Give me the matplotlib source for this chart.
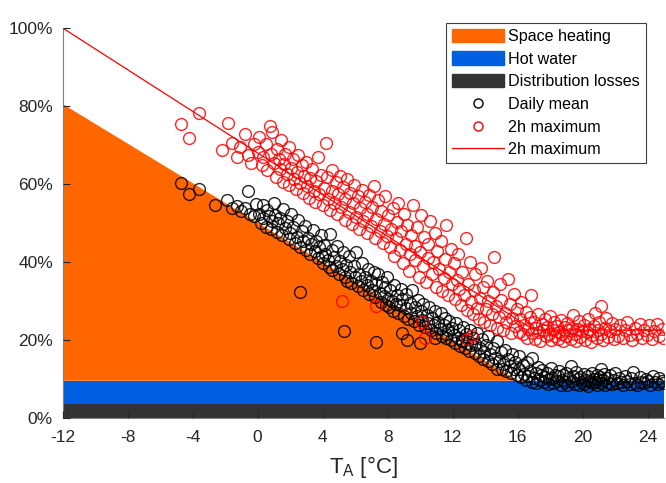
import numpy as np
import matplotlib.pyplot as plt
from matplotlib.patches import Patch
from matplotlib.lines import Line2D

plt.rcParams['font.family'] = ['Liberation Sans', 'DejaVu Sans']
plt.rcParams['mathtext.fontset'] = 'custom'
plt.rcParams['mathtext.rm'] = 'Liberation Sans'
plt.rcParams['axes.unicode_minus'] = False

# Lastanteile über der Außentemperatur (in %)
t_area = [-12, 16, 25]
verluste = [3.5, 3.5, 3.5]
warmwasser = [6.0, 6.0, 6.0]
heizung = [71.0, 0.0, 0.0]

t_linie = [-12, 17, 25]
max_linie = [100, 22.5, 22.5]

# Tagesmittel: (T, Anteil)
mittel = np.array([
    (-4.7, 60.2), (-4.2, 57.5), (-3.6, 58.8), (-2.6, 54.5), (-1.9, 55.8), (-1.6, 53.8), (-1.3, 54.4),
    (-1.05, 53.0), (-0.75, 53.9), (-0.5, 52.4), (-0.6, 58.3), (-0.25, 51.8), (-0.1, 54.9),
    (0.1, 52.4), (0.2, 50.1), (0.3, 54.6), (0.35, 51.3), (0.5, 49.0), (0.6, 53.2), (0.7, 51.7), (0.8, 48.4),
    (0.9, 50.6), (1.0, 55.0), (1.05, 52.0), (1.2, 47.7), (1.25, 49.9), (1.4, 51.3), (1.5, 46.9), (1.55, 53.5),
    (1.7, 48.6), (1.8, 50.4), (1.9, 45.8), (2.0, 47.3), (2.05, 52.2), (2.2, 49.0), (2.3, 44.9), (2.4, 46.5),
    (2.5, 50.8), (2.6, 43.8), (2.7, 47.9), (2.8, 45.4), (2.9, 49.2), (3.0, 43.0), (3.1, 46.0), (3.2, 41.9),
    (3.3, 44.6), (3.4, 48.3), (3.5, 42.8), (3.6, 45.3), (3.7, 40.9), (3.8, 43.9), (3.9, 47.0), (3.95, 41.6),
    (4.0, 39.6), (4.1, 44.3), (4.15, 42.0), (4.3, 40.5), (4.4, 38.6), (4.45, 47.2), (4.55, 43.1), (4.6, 37.9),
    (4.7, 41.2), (4.8, 39.0), (4.9, 44.0), (5.0, 36.8), (5.05, 40.2), (5.2, 38.1), (5.25, 42.6), (5.35, 36.0),
    (5.45, 39.3), (5.5, 35.2), (5.6, 41.5), (5.7, 37.4), (5.75, 34.6), (5.9, 39.0), (6.0, 36.1), (6.05, 42.5),
    (6.15, 33.8), (6.25, 37.0), (6.35, 35.0), (6.4, 39.6), (6.5, 32.9), (6.6, 36.0), (6.7, 34.0), (6.8, 38.2),
    (6.85, 31.8), (7.0, 35.1), (7.05, 32.9), (7.15, 37.4), (7.25, 30.9), (7.3, 34.2), (7.4, 36.9), (7.5, 32.0),
    (7.6, 29.8), (7.65, 34.9), (7.75, 31.3), (7.85, 33.5), (7.9, 29.0), (7.95, 36.2),
    (8.0, 30.6), (8.1, 28.4), (8.15, 32.8), (8.25, 30.0), (8.35, 27.5), (8.4, 34.1), (8.5, 29.2), (8.6, 31.5),
    (8.65, 26.8), (8.75, 28.9), (8.85, 33.0), (8.9, 30.4), (9.0, 26.0), (9.1, 28.1), (9.15, 31.7), (9.25, 25.4),
    (9.35, 29.4), (9.45, 27.0), (9.5, 32.9), (9.6, 24.8), (9.7, 28.3), (9.8, 26.2), (9.85, 30.3), (9.95, 23.9),
    (10.05, 27.3), (10.1, 25.2), (10.2, 29.2), (10.3, 23.3), (10.4, 26.4), (10.5, 24.4), (10.55, 28.3),
    (10.65, 22.5), (10.75, 25.6), (10.85, 23.8), (10.9, 27.5), (11.0, 21.8), (11.1, 24.7), (11.2, 22.9),
    (11.25, 26.8), (11.35, 21.0), (11.45, 23.9), (11.55, 25.7), (11.6, 20.4), (11.7, 22.4), (11.8, 24.8),
    (11.9, 19.9), (11.95, 23.0),
    (12.05, 21.3), (12.15, 19.2), (12.2, 24.3), (12.3, 20.6), (12.4, 22.5), (12.45, 18.5), (12.55, 20.0),
    (12.65, 23.2), (12.75, 17.9), (12.8, 21.4), (12.9, 19.2), (13.0, 17.2), (13.05, 22.6), (13.15, 18.6),
    (13.25, 20.5), (13.35, 16.5), (13.4, 19.0), (13.5, 21.7), (13.6, 15.9), (13.7, 17.9), (13.8, 20.2),
    (13.85, 15.2), (13.95, 16.9), (14.05, 18.8), (14.15, 14.6), (14.2, 21.0), (14.3, 16.3), (14.4, 13.9),
    (14.5, 17.9), (14.6, 15.3), (14.7, 12.6), (14.75, 19.6), (14.85, 14.5), (14.95, 16.8), (15.05, 12.4),
    (15.1, 13.9), (15.2, 17.3), (15.3, 12.0), (15.4, 15.2), (15.5, 13.3), (15.6, 11.4), (15.65, 16.4),
    (15.75, 12.6), (15.85, 14.4), (15.95, 10.9),
    (16.05, 12.5), (16.1, 15.8), (16.2, 10.4), (16.3, 13.5), (16.4, 11.2), (16.5, 9.6), (16.55, 14.3),
    (16.65, 10.8), (16.75, 12.1), (16.85, 9.2), (16.9, 15.4), (17.0, 10.3), (17.1, 11.6), (17.15, 8.9),
    (17.25, 13.1), (17.35, 9.8), (17.45, 10.9), (17.5, 12.3), (17.6, 9.1), (17.7, 10.5), (17.8, 11.4),
    (17.85, 8.6), (17.95, 9.9), (18.05, 12.8), (18.1, 10.2), (18.2, 8.8), (18.3, 11.0), (18.4, 9.5),
    (18.45, 10.6), (18.55, 12.0), (18.65, 8.5), (18.7, 9.7), (18.8, 10.9), (18.9, 9.2), (19.0, 11.5),
    (19.05, 8.3), (19.15, 10.1), (19.25, 13.2), (19.35, 9.4), (19.4, 10.7), (19.5, 8.7), (19.6, 11.8),
    (19.7, 9.9), (19.75, 8.4), (19.85, 10.4), (19.95, 9.1), (20.05, 11.2), (20.1, 8.6), (20.2, 9.8),
    (20.3, 10.6), (20.35, 8.2), (20.45, 9.5), (20.55, 11.6), (20.6, 8.9), (20.7, 10.0), (20.75, 9.3),
    (20.85, 11.0), (20.9, 8.5), (20.95, 9.9), (21.05, 10.5), (21.1, 12.4), (21.15, 8.8), (21.25, 9.6),
    (21.3, 11.3), (21.4, 8.4), (21.5, 10.2), (21.6, 9.0), (21.7, 10.9), (21.8, 8.6), (21.9, 9.7),
    (22.0, 11.4), (22.1, 8.9), (22.25, 10.3), (22.35, 9.2), (22.5, 8.5), (22.6, 10.7), (22.75, 9.4),
    (22.9, 8.7), (23.0, 10.1), (23.1, 11.7), (23.2, 9.0), (23.35, 8.4), (23.5, 10.5), (23.6, 9.3),
    (23.75, 8.8), (23.9, 10.0), (24.0, 9.5), (24.15, 8.5), (24.3, 10.8), (24.45, 9.1), (24.6, 8.7),
    (24.7, 10.2), (24.85, 9.4), (24.95, 8.9),
    (2.6, 32.3), (5.3, 22.3), (7.3, 19.5), (8.9, 21.8), (9.2, 20.0), (10.0, 19.2), (11.6, 21.4),
    (12.6, 19.6), (10.9, 20.6),
])

# 2h-Maxima: (T, Anteil)
maxima = np.array([
    (-4.7, 75.4), (-4.2, 71.8), (-3.6, 78.2), (-2.2, 68.8), (-1.8, 75.6), (-1.6, 70.6), (-1.3, 66.9),
    (-1.1, 69.6), (-0.8, 72.8), (-0.6, 67.5), (-0.4, 65.4), (-0.2, 70.3),
    (0.0, 68.3), (0.1, 72.0), (0.25, 64.8), (0.35, 66.9), (0.5, 70.2), (0.6, 63.6), (0.75, 74.9), (0.8, 67.8),
    (0.9, 73.2), (1.0, 65.4), (1.1, 61.9), (1.2, 69.0), (1.3, 66.3), (1.35, 63.8), (1.45, 71.3), (1.55, 60.6),
    (1.6, 65.0), (1.7, 67.6), (1.8, 62.5), (1.9, 59.8), (1.95, 69.4), (2.05, 64.0), (2.15, 66.4), (2.25, 61.3),
    (2.35, 58.8), (2.4, 63.1), (2.5, 67.3), (2.6, 60.2), (2.7, 64.8), (2.8, 57.6), (2.85, 62.0), (2.95, 65.7),
    (3.05, 59.4), (3.15, 56.5), (3.25, 61.6), (3.35, 63.9), (3.45, 58.1), (3.55, 55.4), (3.6, 60.7),
    (3.7, 66.8), (3.8, 57.3), (3.9, 62.4),
    (4.0, 54.6), (4.1, 59.0), (4.2, 70.4), (4.25, 61.8), (4.35, 56.2), (4.45, 53.4), (4.55, 58.3), (4.6, 63.5),
    (4.7, 55.0), (4.8, 60.4), (4.9, 52.2), (4.95, 57.3), (5.05, 62.0), (5.15, 54.1), (5.25, 59.3), (5.35, 50.8),
    (5.4, 56.2), (5.5, 61.2), (5.6, 52.9), (5.7, 57.8), (5.8, 49.8), (5.85, 55.1), (5.95, 59.6), (6.05, 51.6),
    (6.15, 56.9), (6.25, 48.5), (6.3, 53.8), (6.4, 58.5), (6.5, 50.6), (6.6, 55.4), (6.7, 47.3), (6.75, 52.4),
    (6.85, 57.2), (6.95, 49.1), (7.05, 54.2), (7.15, 59.4), (7.25, 46.2), (7.3, 51.0), (7.4, 55.9), (7.5, 47.9),
    (7.6, 53.1), (7.7, 44.9), (7.8, 49.8), (7.85, 56.8), (7.95, 46.7),
    (8.05, 51.9), (8.15, 43.8), (8.2, 48.5), (8.3, 53.7), (8.4, 41.4), (8.5, 46.1), (8.55, 50.3), (8.65, 55.2),
    (8.75, 43.0), (8.85, 47.8), (8.95, 39.8), (9.0, 52.4), (9.1, 44.7), (9.2, 49.5), (9.3, 37.6), (9.35, 42.1),
    (9.45, 46.9), (9.55, 54.6), (9.65, 40.4), (9.7, 44.0), (9.8, 49.0), (9.9, 36.2), (10.0, 42.6), (10.05, 52.0),
    (10.15, 38.9), (10.25, 46.3), (10.35, 34.8), (10.45, 41.0), (10.5, 44.5), (10.6, 50.6), (10.7, 36.9),
    (10.8, 39.9), (10.9, 47.3), (11.0, 33.5), (11.05, 42.8), (11.15, 38.1), (11.25, 45.4), (11.35, 32.6),
    (11.45, 35.9), (11.5, 40.7), (11.6, 49.4), (11.7, 31.4), (11.8, 37.4), (11.9, 43.3), (11.95, 34.4),
    (12.05, 39.6), (12.15, 30.5), (12.25, 35.3), (12.3, 42.1), (12.4, 33.1), (12.5, 28.9), (12.6, 37.5),
    (12.7, 31.6), (12.8, 46.0), (12.85, 27.6), (12.95, 34.4), (13.05, 40.0), (13.15, 29.6), (13.25, 26.6),
    (13.3, 32.7), (13.4, 36.8), (13.5, 28.1), (13.6, 25.4), (13.7, 30.8), (13.75, 38.5), (13.85, 33.6),
    (13.95, 24.7), (14.05, 27.9), (14.1, 35.0), (14.2, 30.0), (14.3, 23.9), (14.4, 26.6), (14.45, 32.2),
    (14.55, 41.2), (14.65, 28.6), (14.75, 23.1), (14.85, 25.8), (14.9, 34.4), (15.0, 30.3), (15.1, 22.4),
    (15.2, 27.0), (15.3, 24.7), (15.4, 35.6), (15.5, 29.1), (15.6, 21.8), (15.65, 25.6), (15.75, 31.8),
    (15.85, 23.6), (15.95, 27.9),
    (16.05, 22.1), (16.15, 25.3), (16.2, 29.6), (16.3, 21.4), (16.4, 23.8), (16.5, 27.2), (16.55, 20.6),
    (16.65, 22.9), (16.75, 25.9), (16.8, 31.4), (16.9, 21.7), (17.0, 24.5), (17.05, 20.2), (17.15, 23.1),
    (17.25, 26.7), (17.3, 21.9), (17.4, 19.8), (17.5, 24.0), (17.55, 22.4), (17.65, 25.4), (17.75, 20.9),
    (17.8, 23.4), (17.9, 21.5), (18.0, 26.1), (18.05, 19.9), (18.15, 22.6), (18.25, 24.6), (18.3, 21.1),
    (18.4, 23.6), (18.5, 20.3), (18.55, 22.1), (18.65, 25.0), (18.75, 21.4), (18.8, 19.6), (18.9, 23.3),
    (19.0, 21.0), (19.05, 24.4), (19.15, 22.4), (19.25, 20.1), (19.35, 23.0), (19.4, 26.4), (19.5, 21.6),
    (19.6, 19.7), (19.7, 22.8), (19.8, 24.8), (19.85, 20.7), (19.95, 22.2), (20.05, 23.9), (20.15, 20.0),
    (20.25, 21.9), (20.3, 25.3), (20.4, 22.7), (20.5, 19.5), (20.6, 21.3), (20.7, 23.6), (20.75, 26.8),
    (20.85, 20.4), (20.95, 22.5), (21.0, 24.6), (21.1, 28.6), (21.15, 21.4), (21.25, 19.9), (21.35, 23.1),
    (21.45, 25.6), (21.55, 20.8), (21.65, 22.3), (21.8, 24.2), (21.9, 20.2), (22.0, 22.9), (22.15, 21.0),
    (22.3, 23.7), (22.45, 20.5), (22.6, 22.4), (22.75, 24.5), (22.9, 21.2), (23.05, 19.9), (23.2, 23.0),
    (23.35, 21.6), (23.5, 24.1), (23.65, 20.6), (23.8, 22.6), (23.95, 21.3), (24.1, 23.7), (24.25, 20.3),
    (24.4, 22.2), (24.55, 24.0), (24.7, 21.0), (24.85, 22.9), (24.95, 20.4),
    (5.2, 30.0), (7.3, 28.7), (10.3, 20.5), (12.9, 20.3), (13.2, 21.0), (10.1, 24.5),
])

fig, ax = plt.subplots(figsize=(6.66, 4.83), dpi=100)
fig.subplots_adjust(left=0.094, right=0.997, bottom=0.135, top=0.942)

c_heiz = '#FF6600'
c_ww = '#005FE0'
c_verl = '#333333'
ax.stackplot(t_area, verluste, warmwasser, heizung, colors=[c_verl, c_ww, c_heiz], linewidth=0)

ax.plot(mittel[:, 0], mittel[:, 1], 'o', mfc='none', mec='black', ms=8.5, mew=1.0, alpha=0.85)
ax.plot(maxima[:, 0], maxima[:, 1], 'o', mfc='none', mec='red', ms=8.5, mew=1.0, alpha=0.85)
ax.plot(t_linie, max_linie, '-', color='red', lw=0.9)

ax.set_xlim(-12, 25)
ax.set_ylim(0, 100)
ax.set_xticks(np.arange(-12, 25, 4))
ax.set_yticks(np.arange(0, 101, 20))
ax.set_yticklabels(['%d%%' % v for v in range(0, 101, 20)])
ax.tick_params(direction='in', length=5, labelsize=12.5, color='#262626', labelcolor='#262626')
ax.tick_params(axis='x', pad=9)
ax.tick_params(axis='y', pad=7)
ax.spines['top'].set_visible(False)
ax.spines['right'].set_visible(False)
for s in ['left', 'bottom']:
    ax.spines[s].set_color('#808080')
ax.set_axisbelow(False)
ax.set_xlabel(r'T$_\mathrm{A}$ [°C]', fontsize=16, color='#262626', labelpad=6)

handles = [Patch(color=c_heiz), Patch(color=c_ww), Patch(color=c_verl),
           Line2D([], [], ls='none', marker='o', mfc='none', mec='black', ms=6.5),
           Line2D([], [], ls='none', marker='o', mfc='none', mec='red', ms=6.5),
           Line2D([], [], color='red', lw=0.9)]
labels = ['Space heating', 'Hot water', 'Distribution losses', 'Daily mean', '2h maximum', '2h maximum']
leg = fig.legend(handles, labels, loc='upper right', bbox_to_anchor=(646 / 666, 1 - 23 / 483),
                 bbox_transform=fig.transFigure, borderaxespad=0, fontsize=11.6,
                 frameon=True, fancybox=False, edgecolor='#404040', framealpha=1,
                 handlelength=3.2, handleheight=0.9, handletextpad=0.3, labelspacing=0.46, borderpad=0.36)
leg.get_frame().set_linewidth(0.8)

plt.savefig('out.png', dpi=100)
